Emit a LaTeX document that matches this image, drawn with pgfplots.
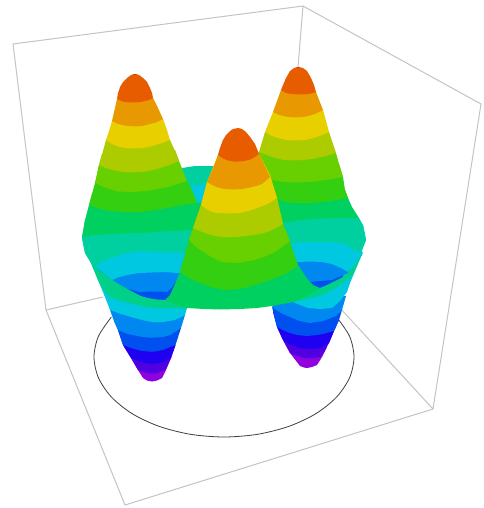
\documentclass[border=0pt]{standalone}
\usepackage{pgfplots}
\pgfplotsset{compat=1.18}
\definecolor{cRed}{HTML}{E83010}
\definecolor{cA}{HTML}{E85C00}
\definecolor{cB}{HTML}{E89800}
\definecolor{cC}{HTML}{E8D000}
\definecolor{cD}{HTML}{ACCC00}
\definecolor{cE}{HTML}{68D000}
\definecolor{cF}{HTML}{33CF10}
\definecolor{cG}{HTML}{00D060}
\definecolor{cS}{HTML}{00D088}
\definecolor{cH}{HTML}{00D0A0}
\definecolor{cI}{HTML}{00C8E0}
\definecolor{cJ}{HTML}{0088F0}
\definecolor{cK}{HTML}{0050F0}
\definecolor{cL}{HTML}{2000F0}
\definecolor{cM}{HTML}{5000E0}
\definecolor{cN}{HTML}{9000E0}
\definecolor{cBox}{HTML}{C4C4C4}
\newcommand\band[2]{\addplot[fill=#1,draw=none,forget plot] coordinates {#2} -- cycle;}
\begin{document}
\begin{tikzpicture}
\begin{axis}[width=483pt,height=508pt,scale only axis,xmin=0,xmax=483,ymin=0,ymax=508,y dir=reverse,hide axis,clip=true,axis background/.style={fill=white},no marks]
% box
\addplot[cBox,line width=1pt] coordinates {(46,310)(13,44)(303,6)(481,104)(433,409)(125,505)(46,310)(103,297)};
\addplot[cBox,line width=1pt] coordinates {(303,6)(298,67)};
\addplot[cBox,line width=1pt] coordinates {(433,409)(340,308)};
% base circle
\addplot[smooth,black!75,line width=0.8pt] coordinates {(111.4,317)(98.4,336.3)(94,357)(98.4,377.7)(111.4,397)(132,413.6)(159,426.3)(190.4,434.3)(224,437)(257.6,434.3)(289,426.3)(316,413.6)(336.6,397)(349.6,377.7)(354,357)(349.6,336.3)(336.6,317)};
% left trough body
\band{cN}{(131,358)(138,370)(143,378)(147,380.5)(152,381.5)(157,380.5)(162,378)(166,370)(171,358)(150,355)}
\band{cM}{(123,345)(131,358)(138,370)(144,372)(150,373.5)(155,373.5)(160,372)(166,369)(171,358)(175.5,345)(150,350)}
\band{cL}{(118,330)(123,345)(131,358)(138,361)(145,363)(152,364)(160,363)(166,361)(171,358)(175.5,345)(150,340)}
\band{cK}{(114,321)(118,330)(123,345)(131,348)(140,350.5)(148,351.5)(155,351.5)(163,350)(170,347)(175.5,345)(181,328)(150,325)}
\band{cJ}{(110,310)(114,321)(118,330)(128,334)(140,336.5)(148,337.5)(155,337.5)(163,337)(170,335)(181,328)(185,315)(150,310)}
\band{cI}{(91,263)(98,280)(105,297)(110,310)(121,314)(133,317.5)(142,320)(152,322)(163,322)(175,320)(185,315)(187,308)(190,285)}
% right trough body
\band{cN}{(283,340)(290,353)(300,366)(304,367.5)(307,368)(312,367)(317,365)(322,357)(327,347)(305,345)}
\band{cM}{(277,327)(283,340)(290,353)(297,356)(305,358)(313,358)(320,357)(324,352)(329,343)(334,331)(305,330)}
\band{cL}{(273,312)(277,327)(283,340)(291,345)(300,348)(310,349)(320,348)(329,343)(334,331)(339,320)(305,320)}
\band{cK}{(272,307)(277,327)(287,332)(297,335)(307,336)(317,335)(325,333.5)(334,331)(339,320)(342,310)(305,305)}
\band{cJ}{(270,300)(273,308)(281,313)(290,317)(300,321)(310,323)(323,321)(336,316)(342,310)(346,296)(305,295)}
\band{cI}{(272,295)(293,302)(300,305)(308,308)(320,309)(332,308)(340,301)(347,292)(350,283)(363,252)}
% back rim
\band{cH}{(175,175)(182,168)(195,166)(212,166)(240,166)(270,170)(270,250)(180,250)}
\band{cI}{(187,186)(198,185)(210,184)(210,215)(195,215)}
% left interior and peak
\band{cK}{(120,285)(120,300)(170,305)(185,270)(160,280)}
\band{cJ}{(95,262)(105,282)(125,288)(140,292)(150,291.5)(160,291.5)(167,292)(172,287)(177,280)(190,260)(150,265)}
\band{cI}{(82,238)(85,253)(91,263)(112,280)(118,277.5)(125,275.5)(132,274)(140,273)(152,272.5)(165,272)(178,273)(215,275)(215,245)(150,245)}
\band{cH}{(85,220)(82,238)(85,253)(91,263)(95,266)(106,260)(118,255.5)(126,253)(135,252)(144,251.5)(152,252)(170,252.5)(188,253)(215,253)(215,225)(150,222)}
\band{cG}{(92,194)(89,205)(85,220)(82,237)(96,235)(110,234)(126,233.5)(142,233)(156,232)(170,231)(195,230)(215,230)(210,200)(197,203)(150,195)}
\band{cF}{(99,165)(97,175)(95,183)(92,194)(89,205)(99,208.5)(110,211)(122,212)(135,212.5)(150,211)(165,208.5)(182,205)(197,203)(193,192)(187,181)(150,170)}
\band{cE}{(102,154)(99,165)(95,183)(106,188)(118,191.5)(134,192)(150,190.5)(168,187)(187,181)(183,171)(179,161)(175,150)(135,150)}
\band{cD}{(106,140)(102.5,153)(99,165)(107,168.5)(115,170.5)(123,172)(130,172.5)(143,172)(155,169.5)(168,165.5)(179,161)(175,151)(170,140)(135,130)}
\band{cC}{(112,121)(109,131)(106,140)(112,144)(118,146.5)(125,148)(133,148.5)(143,148)(152,146)(161,143.5)(170,140)(167,130)(163,119)(135,110)}
\band{cB}{(117,99)(114.5,110)(112,121)(117,123.5)(122,125)(128,126)(135,126.5)(142,126)(150,124)(157,122)(163,119)(158,108)(153,98)(135,90)}
\band{cA}{(135,74)(131,75)(127,78)(123,82)(120,87)(118,93)(117,99)(121,101)(125,102)(130,102.5)(135,102.5)(140,102)(145,101)(149,100)(153,98)(152,93)(150,88)(147,82)(143,78)(139,75)}
\band{cRed}{(132,75)(135,74)(138,75)}
% right interior and peak
\band{cK}{(305,275)(310,290)(340,285)(345,270)(320,270)}
\band{cJ}{(280,255)(285,285)(310,282)(320,281)(332,280)(348,273)(352,265)(320,255)}
\band{cI}{(363,225)(366,240)(362,250)(362,255)(348,272)(340,267.5)(332,264)(322,262)(310,261.5)(298,262)(250,262)(250,235)(300,235)}
\band{cH}{(359,218)(363,225)(366,240)(362,250)(357,252)(350,247)(343,243.5)(331,242)(320,242)(306,242)(292,243)(250,243)(250,215)(300,215)}
\band{cG}{(345,190)(348,198)(352,207)(359,218)(340,218)(320,218.5)(301,220)(283,223)(250,225)(250,195)(300,190)}
\band{cF}{(339,164)(343,177)(345,190)(348,198)(328,201.5)(307,203.5)(292,203)(277,200)(250,195)(250,170)(300,165)}
\band{cE}{(336,153)(339,164)(343,177)(330,179.5)(314,181.5)(297,182.5)(284,182)(272,180)(250,178)(259,152)(300,150)}
\band{cD}{(329,132)(336,153)(326,156)(315,158.5)(304,160)(293,160.5)(284,160)(275,158)(267,155)(259,152)(265,132)(295,125)}
\band{cC}{(323,110)(329,132)(321,135.5)(312,138.5)(304,140)(295,140.5)(286,140)(278,138)(271,135.5)(265,132)(273,112)(295,100)}
\band{cB}{(316,92)(323,110)(316,113.5)(310,115.5)(303,117)(295,117.5)(288,117)(283,116)(278,114.5)(273,112)(281,90)(298,80)}
\band{cA}{(298,67)(294,68)(290,71)(286,78)(283,85)(281,90)(285,92.5)(290,94)(298,94.5)(305,94.5)(311,93.5)(316,92)(314,85)(311,78)(307,71)(303,68)}
\band{cRed}{(295,68)(298,67)(301,68)}
% front rim stripes
\band{cS}{(91,263)(100,271)(112,280)(122,286)(133,292)(141,296)(148,298)(157,299.5)(165,300)(175,303)(187,308)(170,308.5)(153,308)(141,306)(130,303)(119,300.5)(110,297)(103,289)(98,280)}
\band{cS}{(363,252)(356,263)(348,273)(341,278)(333,282)(327,285)(320,288)(307,295)(293,302)(304,300)(315,297)(324,294)(332,290)(340,285)(352,276)}
% centre peak
\band{cG}{(189,240)(184.5,256)(180,272)(175,284)(170,295)(165,300)(176,304.5)(187,308)(204,309)(220,309.5)(240,309)(257,308)(272,306)(293,302)(307,296)(320,288)(313,285)(308,280)(298,265)(290,245)(240,245)}
\band{cF}{(193,228)(189,240)(180,272)(189,278)(200,283)(212,287.5)(225,290)(240,289)(255,285)(270,280)(285,274)(298,266)(290,241)(283,224)(240,225)}
\band{cE}{(201,205)(193,228)(189,240)(196,247)(205,253)(213,258)(222,262)(238,263)(255,260)(265,256.5)(275,252)(290,241)(283,224)(277,198)(240,200)}
\band{cD}{(207,182)(201,205)(193,228)(200,231)(208,234)(215,236)(222,237)(238,237)(253,235)(262,233.5)(270,231)(283,224)(277,198)(270,175)(240,180)}
\band{cC}{(218,155)(207,182)(201,205)(205,208)(210,211)(215,212.5)(220,213)(230,213.5)(240,213)(250,210.5)(260,207)(269,203)(277,198)(270,175)(259,154)(240,150)}
\band{cB}{(223,140)(218,155)(212.5,170)(207,182)(212,185)(218,187.5)(225,189)(233,189.5)(242,189)(250,187.5)(256,186)(262,184)(270,177)(259,154)(250,137)(240,135)}
\band{cA}{(238,128)(233,129)(230,131)(226,135)(223,140)(220,148)(218,155)(223,158.5)(228,160.5)(233,161.5)(238,161.5)(244,161)(250,159.5)(255,157)(259,154)(255,144)(250,137)(246,132)(242,129)}
\end{axis}
\end{tikzpicture}
\end{document}
